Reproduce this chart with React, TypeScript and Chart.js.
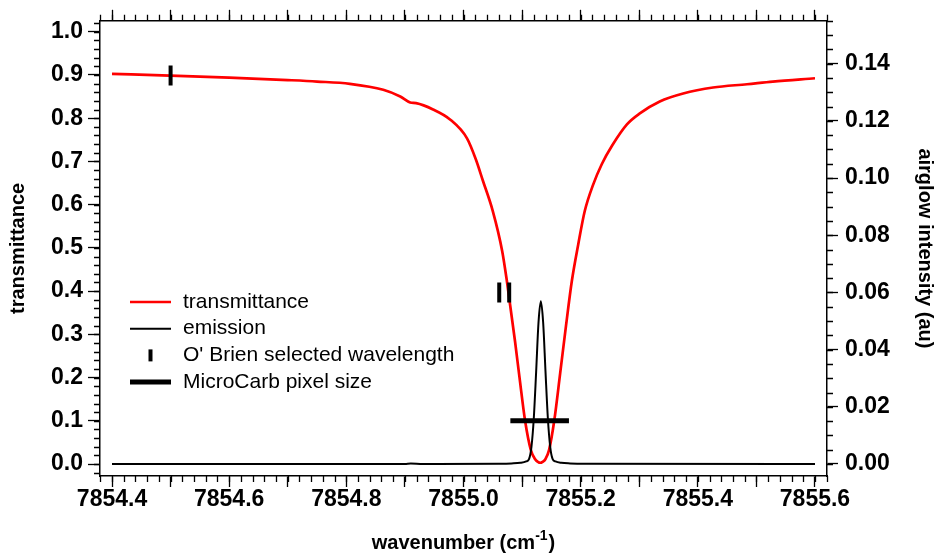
import React, { useEffect, useRef } from 'react';
import { Chart, registerables } from 'chart.js';

Chart.register(...registerables);

const FONT = '"Liberation Sans", Arial, Helvetica, sans-serif';

// transmittance (left axis)
const transWavenumber = [
  7854.400, 7854.499, 7854.600, 7854.700, 7854.750, 7854.806, 7854.863, 7854.892,
  7854.909, 7854.919, 7854.948, 7854.977, 7855.006, 7855.021, 7855.033, 7855.050,
  7855.066, 7855.074, 7855.088, 7855.096, 7855.105, 7855.115, 7855.122, 7855.127,
  7855.131, 7855.135, 7855.140, 7855.146, 7855.155, 7855.165, 7855.175, 7855.185,
  7855.196, 7855.207, 7855.221, 7855.236, 7855.254, 7855.279, 7855.301, 7855.335,
  7855.375, 7855.426, 7855.484, 7855.528, 7855.600,
];
const transValues = [
  0.9025, 0.8986, 0.8940, 0.8882, 0.8848, 0.8795, 0.8657, 0.8502,
  0.8364, 0.8348, 0.8203, 0.7972, 0.7535, 0.7051, 0.6560, 0.5853,
  0.4931, 0.4240, 0.2834, 0.1959, 0.1014, 0.0323, 0.0118, 0.0052,
  0.0030, 0.0052, 0.0118, 0.0323, 0.1014, 0.2097, 0.3203, 0.4240,
  0.5092, 0.5853, 0.6452, 0.6935, 0.7373, 0.7857, 0.8111, 0.8387,
  0.8571, 0.8710, 0.8786, 0.8848, 0.8924,
];

// emission (right axis)
const emisWavenumber = [
  7854.40, 7854.90, 7854.91, 7854.93, 7855.06, 7855.082, 7855.097, 7855.107,
  7855.112, 7855.116, 7855.120, 7855.124, 7855.128, 7855.132, 7855.136, 7855.140,
  7855.144, 7855.148, 7855.152, 7855.157, 7855.167, 7855.182, 7855.21, 7855.60,
];
const emisValues = [
  0.0, 0.0, 0.0002, 0.0, 0.0001, 0.0002, 0.0004, 0.0009,
  0.0018, 0.0060, 0.0160, 0.0322, 0.0494, 0.0569, 0.0494, 0.0322,
  0.0160, 0.0060, 0.0018, 0.0009, 0.0004, 0.0002, 0.0001, 0.0,
];

// O' Brien selected wavelengths (left axis)
const obrienWavenumber = [7854.5, 7855.061, 7855.078];
const obrienValues = [0.899, 0.397, 0.397];

// MicroCarb pixel size (left axis)
const pixelWavenumber = [7855.08, 7855.18];
const pixelValues = [0.1, 0.1];

const legendLabels = [
  'transmittance',
  'emission',
  "O' Brien selected wavelength",
  'MicroCarb pixel size',
];
const xTitleMain = 'wavenumber (cm';
const xTitleSup = '-1';
const xTitleEnd = ')';
const yLeftTitle = 'transmittance';
const yRightTitle = 'airglow intensity (au)';

const X_MIN = 7854.3795;
const X_MAX = 7855.6205;
const YL_MIN = -0.0276;
const YL_MAX = 1.0253;
const YR_MIN = -0.0042;
const YR_MAX = 0.155;

const minorTicksPlugin = {
  id: 'minorTicks',
  afterDraw(chart: any) {
    const { ctx, chartArea } = chart;
    const specs = [
      { id: 'x', step: 0.02, len: 6, side: 'bottom' },
      { id: 'xTop', step: 0.02, len: 6, side: 'top' },
      { id: 'y', step: 0.02, len: 6, side: 'left' },
      { id: 'y2', step: 0.005, len: 6, side: 'right' },
    ];
    ctx.save();
    ctx.strokeStyle = '#000';
    ctx.lineWidth = 1.3;
    for (const s of specs) {
      const scale = chart.scales[s.id];
      if (!scale) continue;
      const k0 = Math.ceil(scale.min / s.step - 1e-6);
      const k1 = Math.floor(scale.max / s.step + 1e-6);
      ctx.beginPath();
      for (let k = k0; k <= k1; k++) {
        const v = k * s.step;
        const p = Math.round(scale.getPixelForValue(v)) + 0.5;
        if (s.side === 'bottom') {
          ctx.moveTo(p, chartArea.bottom);
          ctx.lineTo(p, chartArea.bottom + s.len);
        } else if (s.side === 'top') {
          ctx.moveTo(p, chartArea.top);
          ctx.lineTo(p, chartArea.top - s.len);
        } else if (s.side === 'left') {
          ctx.moveTo(chartArea.left, p);
          ctx.lineTo(chartArea.left - s.len, p);
        } else {
          ctx.moveTo(chartArea.right, p);
          ctx.lineTo(chartArea.right + s.len, p);
        }
      }
      ctx.stroke();
    }
    ctx.restore();
  },
};

const legendTitlePlugin = {
  id: 'legendTitle',
  afterDraw(chart: any) {
    const { ctx, chartArea } = chart;
    ctx.save();
    // legend
    const rowTop = 302;
    const rowGap = 26.7;
    const sx0 = 130;
    const sx1 = 171;
    const tx = 183;
    ctx.font = `21px ${FONT}`;
    ctx.textBaseline = 'middle';
    ctx.textAlign = 'left';
    ctx.fillStyle = '#000';
    legendLabels.forEach((label, i) => {
      const y = rowTop + i * rowGap;
      ctx.beginPath();
      if (i === 0) {
        ctx.strokeStyle = '#ff0000';
        ctx.lineWidth = 2.5;
        ctx.moveTo(sx0, y);
        ctx.lineTo(sx1, y);
      } else if (i === 1) {
        ctx.strokeStyle = '#000';
        ctx.lineWidth = 2;
        ctx.moveTo(sx0, y);
        ctx.lineTo(sx1, y);
      } else if (i === 2) {
        ctx.strokeStyle = '#000';
        ctx.lineWidth = 4;
        const cx = (sx0 + sx1) / 2;
        ctx.moveTo(cx, y - 6);
        ctx.lineTo(cx, y + 6);
      } else {
        ctx.strokeStyle = '#000';
        ctx.lineWidth = 5;
        ctx.moveTo(sx0, y);
        ctx.lineTo(sx1, y);
      }
      ctx.stroke();
      ctx.fillText(label, tx, y);
    });

    // x axis title with superscript
    const mainFont = `bold 20px ${FONT}`;
    const supFont = `bold 14px ${FONT}`;
    ctx.font = mainFont;
    const w1 = ctx.measureText(xTitleMain).width;
    const w3 = ctx.measureText(xTitleEnd).width;
    ctx.font = supFont;
    const w2 = ctx.measureText(xTitleSup).width;
    const total = w1 + w2 + w3 + 1;
    const cx = (chartArea.left + chartArea.right) / 2;
    let x = cx - total / 2;
    const base = 549;
    ctx.textBaseline = 'alphabetic';
    ctx.font = mainFont;
    ctx.fillText(xTitleMain, x, base);
    x += w1;
    ctx.font = supFont;
    ctx.fillText(xTitleSup, x, base - 9);
    x += w2 + 1;
    ctx.font = mainFont;
    ctx.fillText(xTitleEnd, x, base);
    ctx.restore();
  },
};

export default function App() {
  const canvasRef = useRef<HTMLCanvasElement | null>(null);

  useEffect(() => {
    const canvas = canvasRef.current;
    if (!canvas) return;
    Chart.defaults.font.family = FONT;
    Chart.defaults.color = '#000';

    const transData = transWavenumber.map((x, i) => ({ x, y: transValues[i] }));
    const emisData = emisWavenumber.map((x, i) => ({ x, y: emisValues[i] }));
    const obrienData = obrienWavenumber.map((x, i) => ({ x, y: obrienValues[i] }));
    const pixelData = pixelWavenumber.map((x, i) => ({ x, y: pixelValues[i] }));

    const tickFont = { size: 23, weight: 'bold' as const, family: FONT };
    const titleFont = { size: 20, weight: 'bold' as const, family: FONT, lineHeight: 1 };

    const chart = new Chart(canvas, {
      type: 'line',
      data: {
        datasets: [
          {
            label: legendLabels[0],
            data: transData,
            yAxisID: 'y',
            borderColor: '#ff0000',
            borderWidth: 2.7,
            pointRadius: 0,
            cubicInterpolationMode: 'monotone',
            order: 4,
          },
          {
            label: legendLabels[1],
            data: emisData,
            yAxisID: 'y2',
            borderColor: '#000',
            borderWidth: 2,
            pointRadius: 0,
            cubicInterpolationMode: 'monotone',
            order: 3,
          },
          {
            label: legendLabels[2],
            data: obrienData,
            yAxisID: 'y',
            showLine: false,
            borderColor: '#000',
            backgroundColor: '#000',
            pointStyle: 'line',
            pointRotation: 90,
            pointRadius: 10,
            pointBorderWidth: 4,
            order: 1,
          },
          {
            label: legendLabels[3],
            data: pixelData,
            yAxisID: 'y',
            borderColor: '#000',
            borderWidth: 5,
            borderCapStyle: 'butt',
            pointRadius: 0,
            order: 2,
          },
        ],
      },
      options: {
        animation: false,
        responsive: false,
        events: [],
        layout: { padding: 0 },
        plugins: {
          legend: { display: false },
          tooltip: { enabled: false },
        },
        scales: {
          x: {
            type: 'linear',
            position: 'bottom',
            min: X_MIN,
            max: X_MAX,
            border: { display: true, color: '#000', width: 1.5 },
            grid: {
              drawOnChartArea: false,
              drawTicks: true,
              tickLength: 11,
              tickColor: '#000',
              tickWidth: 1.3,
            },
            ticks: {
              stepSize: 0.1,
              includeBounds: false,
              autoSkip: false,
              maxRotation: 0,
              padding: -1,
              font: tickFont,
              color: '#000',
              callback: (v: any) => {
                const r = Math.round(Number(v) * 10);
                return r % 2 === 0 ? (r / 10).toFixed(1) : '';
              },
            },
            afterFit: (s: any) => {
              s.height = 77;
            },
          },
          xTop: {
            type: 'linear',
            axis: 'x',
            position: 'top',
            min: X_MIN,
            max: X_MAX,
            border: { display: true, color: '#000', width: 1.5 },
            grid: {
              drawOnChartArea: false,
              drawTicks: true,
              tickLength: 11,
              tickColor: '#000',
              tickWidth: 1.3,
            },
            ticks: {
              stepSize: 0.1,
              includeBounds: false,
              autoSkip: false,
              display: false,
            },
            afterFit: (s: any) => {
              s.height = 19;
            },
          },
          y: {
            type: 'linear',
            position: 'left',
            min: YL_MIN,
            max: YL_MAX,
            border: { display: true, color: '#000', width: 1.5 },
            grid: {
              drawOnChartArea: false,
              drawTicks: true,
              tickLength: 12,
              tickColor: '#000',
              tickWidth: 1.3,
            },
            ticks: {
              stepSize: 0.1,
              includeBounds: false,
              autoSkip: false,
              padding: 5,
              font: tickFont,
              color: '#000',
              callback: (v: any) => Number(v).toFixed(1),
            },
            title: {
              display: true,
              text: yLeftTitle,
              font: titleFont,
              color: '#000',
              padding: { top: 8, bottom: 0 },
            },
            afterFit: (s: any) => {
              s.width = 100;
            },
          },
          y2: {
            type: 'linear',
            position: 'right',
            min: YR_MIN,
            max: YR_MAX,
            border: { display: true, color: '#000', width: 1.5 },
            grid: {
              drawOnChartArea: false,
              drawTicks: true,
              tickLength: 11,
              tickColor: '#000',
              tickWidth: 1.3,
            },
            ticks: {
              stepSize: 0.02,
              includeBounds: false,
              autoSkip: false,
              padding: 7,
              font: tickFont,
              color: '#000',
              callback: (v: any) => Number(v).toFixed(2),
            },
            title: {
              display: true,
              text: yRightTitle,
              font: titleFont,
              color: '#000',
              padding: { top: 0, bottom: 0 },
            },
            afterFit: (s: any) => {
              s.width = 108;
            },
          },
        },
      } as any,
      plugins: [minorTicksPlugin, legendTitlePlugin],
    });

    return () => {
      chart.destroy();
    };
  }, []);

  return (
    <div style={{ position: 'fixed', left: 0, top: 0, width: 935, height: 553, background: '#fff' }}>
      <canvas ref={canvasRef} width={935} height={553} style={{ display: 'block' }} />
    </div>
  );
}
